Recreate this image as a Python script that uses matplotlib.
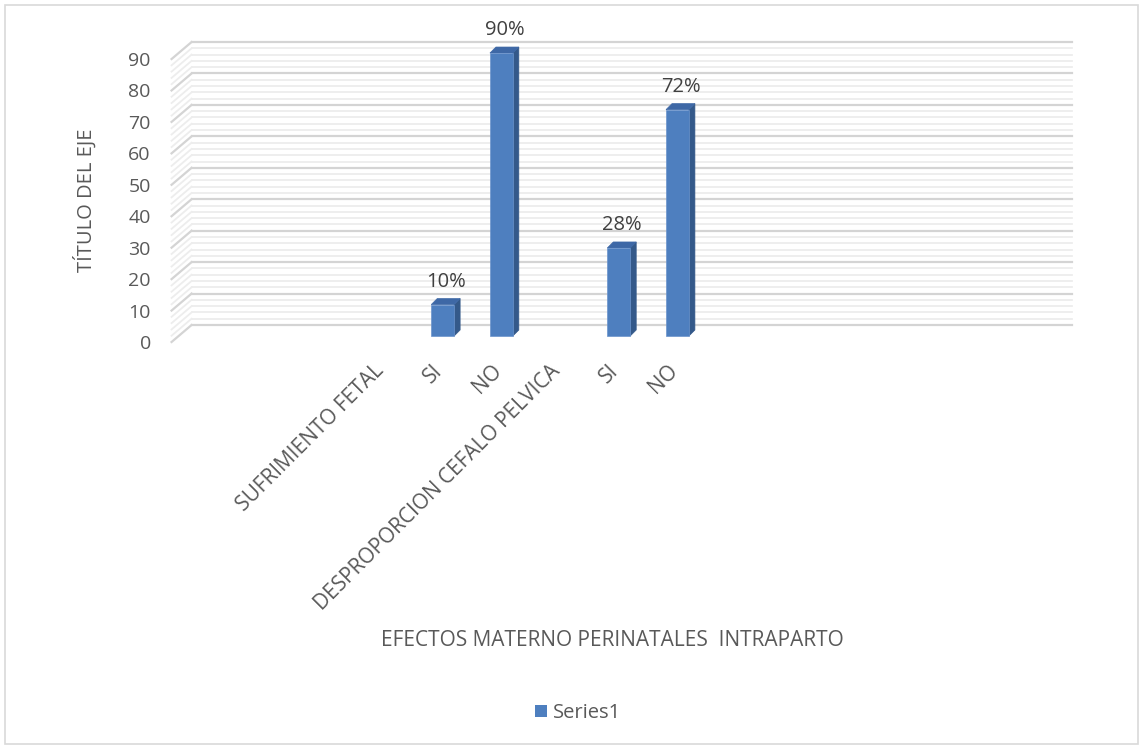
import matplotlib

matplotlib.use("Agg")
import matplotlib.pyplot as plt
from matplotlib.patches import Patch, Polygon, Rectangle
from matplotlib.transforms import ScaledTranslation

# categories shown on the x axis (the chart sits in a wider 15-slot axis)
categories = ["SUFRIMIENTO FETAL", "SI", "NO", "DESPROPORCION CEFALO PELVICA", "SI", "NO"]
values = [None, 10, 90, None, 28, 72]
series_name = "Series1"
y_ticks = list(range(0, 91, 10))
y_minor = list(range(0, 91, 2))
x_title = "EFECTOS MATERNO PERINATALES  INTRAPARTO"
y_title = "TÍTULO DEL EJE"

lead_slots = 3
n_slots = 15

FRONT = "#4e7fbf"
SIDE = "#34598a"
TOP = "#3e68a6"
TEXT = "#595959"
GRID_MAJOR = "#d4d4d4"
GRID_MINOR = "#ededed"

plt.rcParams["font.family"] = ["Open Sans", "DejaVu Sans"]

fig = plt.figure(figsize=(11.41, 7.49), dpi=100)
ax = fig.add_axes([0.1565, 0.5514, 0.7716, 0.3778])
ax.set_xlim(-0.5, n_slots - 0.5)
ax.set_ylim(0, 90)

# pixel -> data unit factors for the fake 3-D depth
px_x = n_slots / (0.7716 * 1141)
px_y = 90 / (0.3778 * 749)
front_dx, front_dy = -7 * px_x, -6 * px_y
back_dx, back_dy = 13 * px_x, 11 * px_y
bar_dx, bar_dy = 6 * px_x, 6 * px_y
bar_w = 0.39

x_left = -0.5
x_right = n_slots - 0.5

# back wall and left wall gridlines
for v in y_minor:
    major = v % 10 == 0
    color = GRID_MAJOR if major else GRID_MINOR
    lw = 1.6 if major else 1.3
    ax.plot([x_left + back_dx, x_right + back_dx], [v + back_dy, v + back_dy],
            color=color, lw=lw, clip_on=False, zorder=1 if major else 0.5)
    ax.plot([x_left + front_dx, x_left + back_dx], [v + front_dy, v + back_dy],
            color=color, lw=lw, clip_on=False, zorder=1 if major else 0.5)

positions = [lead_slots + i for i in range(len(categories))]

for x, v in zip(positions, values):
    if v is None:
        continue
    x0, x1 = x - bar_w / 2, x + bar_w / 2
    ax.add_patch(Polygon([(x1, 0), (x1 + bar_dx, bar_dy), (x1 + bar_dx, v + bar_dy), (x1, v)],
                         closed=True, facecolor=SIDE, edgecolor=SIDE, lw=0.5, clip_on=False, zorder=3))
    ax.add_patch(Polygon([(x0, v), (x1, v), (x1 + bar_dx, v + bar_dy), (x0 + bar_dx, v + bar_dy)],
                         closed=True, facecolor=TOP, edgecolor=TOP, lw=0.5, clip_on=False, zorder=3))
    ax.bar(x, v, width=bar_w, color=FRONT, edgecolor="#6a93cc", linewidth=0.5, zorder=4, clip_on=False)
    ax.annotate(f"{v}%", (x + bar_dx / 2, v + bar_dy), textcoords="offset pixels", xytext=(0, 7),
                ha="center", va="bottom", fontsize=14.5, color="#404040", annotation_clip=False)

for side in ax.spines.values():
    side.set_visible(False)
ax.patch.set_visible(False)

ax.set_yticks(y_ticks)
ax.tick_params(axis="y", length=0, pad=20, labelsize=14, labelcolor=TEXT)
shift_y = ScaledTranslation(0, -6 / 100, fig.dpi_scale_trans)
for label in ax.get_yticklabels():
    label.set_transform(label.get_transform() + shift_y)

ax.set_xticks(positions)
ax.set_xticklabels(categories)
ax.tick_params(axis="x", length=0, pad=23, labelsize=15, labelcolor=TEXT)
shift_x = ScaledTranslation(-3 / 100, 0, fig.dpi_scale_trans)
for label in ax.get_xticklabels():
    label.set_rotation(45)
    label.set_rotation_mode("anchor")
    label.set_ha("right")
    label.set_va("center")
    label.set_transform(label.get_transform() + shift_x)

fig.text(85 / 1141, 1 - 200 / 749, y_title, rotation=90, ha="center", va="center",
         fontsize=14.5, color=TEXT)
fig.text(612 / 1141, 1 - 640 / 749, x_title, ha="center", va="center", fontsize=15, color=TEXT)

fig.legend(handles=[Patch(facecolor=FRONT, label=series_name)], loc="center",
           bbox_to_anchor=(578 / 1141, 1 - 713 / 749), frameon=False, fontsize=14.5,
           handlelength=0.6, handleheight=0.6, handletextpad=0.3, labelcolor=TEXT)

fig.patches.append(Rectangle((5 / 1141, 5 / 749), 1133 / 1141, 739 / 749, transform=fig.transFigure,
                             fill=False, edgecolor="#d9d9d9", lw=1.2))

fig.savefig("out.png", dpi=100)
